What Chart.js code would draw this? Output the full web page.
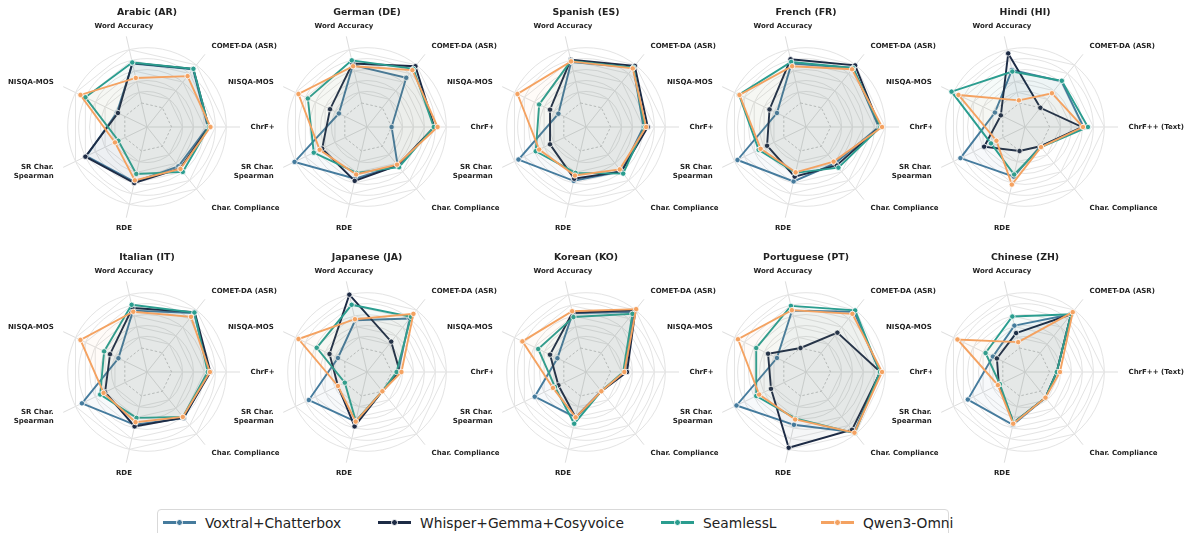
<!DOCTYPE html>
<html>
<head>
<meta charset="utf-8">
<script src="https://cdn.jsdelivr.net/npm/chart.js@4.4.1/dist/chart.umd.min.js"></script>
<style>
body { margin: 0; background: #fff; width: 1194px; height: 533px; overflow: hidden; position: relative; font-family: "DejaVu Sans", sans-serif; }
canvas { position: absolute; }
#legend { position: absolute; left: 157px; top: 509px; width: 790px; height: 34px; border: 1px solid #d9d9d9; border-radius: 4px; background: #fff; }
.item { position: absolute; top: 5px; font-size: 13.8px; color: #222; white-space: nowrap; line-height: 16px; }
.mk { position: absolute; top: 7px; width: 33px; height: 2.5px; }
.mk::after { content: ""; position: absolute; left: 12.5px; top: -2.5px; width: 5px; height: 5px; border-radius: 50%; background: inherit; border: 0.8px solid #fff; }
</style>
</head>
<body>
<div id="legend"></div>
<script>
const LANGS = ['Arabic (AR)', 'German (DE)', 'Spanish (ES)', 'French (FR)', 'Hindi (HI)',
               'Italian (IT)', 'Japanese (JA)', 'Korean (KO)', 'Portuguese (PT)', 'Chinese (ZH)'];
const AXES = ['Word Accuracy', 'COMET-DA (ASR)', 'ChrF++', 'Char. Compliance', 'RDE', ['SR Char.', 'Spearman'], 'NISQA-MOS'];
const AXES_TEXT = ['Word Accuracy', 'COMET-DA (ASR)', 'ChrF++ (Text)', 'Char. Compliance', 'RDE', ['SR Char.', 'Spearman'], 'NISQA-MOS'];
const TEXT_LANGS = ['Hindi (HI)', 'Chinese (ZH)'];
const MODELS = ['Voxtral+Chatterbox', 'Whisper+Gemma+Cosyvoice', 'SeamlessL', 'Qwen3-Omni'];

// normalised scores, axis order as AXES, one row per language
const VOXTRAL = [
  [0.74, 0.90, 0.66, 0.47, 0.58, 0.78, 0.16],
  [0.71, 0.70, 0.00, 0.45, 0.52, 1.02, 0.12],
  [0.77, 0.94, 0.60, 0.59, 0.56, 0.92, 0.11],
  [0.74, 0.93, 0.88, 0.40, 0.57, 0.94, 0.14],
  [0.62, 0.62, 0.62, 0.00, 0.48, 0.86, 0.16],
  [0.70, 0.93, 0.68, 0.63, 0.54, 0.87, 0.13],
  [0.52, 0.80, 0.12, 0.00, 0.48, 0.73, 0.14],
  [0.65, 0.96, 0.26, 0.00, 0.40, 0.59, 0.13],
  [0.70, 0.96, 0.90, 0.96, 0.54, 0.96, 0.14],
  [0.42, 0.90, 0.13, 0.15, 0.54, 0.71, 0.20]
];
const WHISPER = [
  [0.75, 0.91, 0.68, 0.52, 0.60, 0.80, 0.14],
  [0.74, 0.97, 0.78, 0.45, 0.56, 0.46, 0.30],
  [0.81, 0.98, 0.68, 0.59, 0.52, 0.28, 0.28],
  [0.82, 0.99, 0.90, 0.45, 0.48, 0.34, 0.29],
  [0.93, 0.00, 0.59, 0.00, 0.00, 0.38, 0.04],
  [0.75, 0.95, 0.71, 0.62, 0.57, 0.40, 0.30],
  [1.00, 0.26, 0.15, 0.00, 0.57, 0.14, 0.31],
  [0.66, 1.00, 0.30, 0.00, 0.40, 0.11, 0.28],
  [0.00, 0.47, 0.91, 0.90, 0.97, 0.26, 0.32],
  [0.28, 0.90, 0.13, 0.15, 0.50, 0.08, 0.12]
];
const SEAMLESS = [
  [0.76, 0.91, 0.68, 0.60, 0.43, 0.13, 0.80],
  [0.80, 0.91, 0.77, 0.49, 0.41, 0.63, 0.75],
  [0.79, 0.94, 0.62, 0.64, 0.41, 0.57, 0.50],
  [0.77, 0.93, 0.91, 0.50, 0.41, 0.51, 0.91],
  [0.59, 0.63, 0.70, 0.02, 0.44, 0.24, 1.04],
  [0.81, 0.94, 0.66, 0.60, 0.41, 0.50, 0.42],
  [0.81, 0.84, 0.09, 0.00, 0.47, 0.00, 0.57],
  [0.58, 0.91, 0.23, 0.00, 0.52, 0.18, 0.52],
  [0.79, 0.99, 0.90, 0.98, 0.42, 0.56, 0.56],
  [0.59, 0.90, 0.13, 0.15, 0.50, 0.06, 0.35]
];
const QWEN = [
  [0.47, 0.74, 0.71, 0.53, 0.55, 0.20, 0.90],
  [0.69, 0.88, 0.84, 0.43, 0.44, 0.51, 0.94],
  [0.78, 0.92, 0.65, 0.54, 0.46, 0.50, 0.94],
  [0.69, 0.90, 0.94, 0.36, 0.40, 0.47, 0.90],
  [0.05, 0.34, 0.61, 0.02, 0.63, 0.13, 0.90],
  [0.68, 0.84, 0.70, 0.60, 0.49, 0.43, 0.90],
  [0.54, 0.91, 0.18, 0.00, 0.48, 0.14, 0.94],
  [0.69, 1.02, 0.25, 0.00, 0.40, 0.22, 0.84],
  [0.71, 0.91, 0.94, 0.97, 0.44, 0.50, 0.93],
  [0.11, 0.95, 0.19, 0.15, 0.52, 0.10, 0.92]
];
const GRID_LEVELS = [0.2, 0.4, 0.6, 0.8, 1.0];

const COLORS = ['#457b9d', '#1d2b45', '#2a9d8f', '#f4a261'];
const FILLS = ['rgba(69,123,157,0.045)', 'rgba(29,43,69,0.045)', 'rgba(42,157,143,0.045)', 'rgba(244,162,97,0.045)'];
const COL_X = [147, 367, 586, 806, 1025];
const ROW_Y = [127, 372];
const LEGEND_X = [5, 220, 503, 663];


const radarDecor = {
  id: 'radarDecor',
  beforeDraw(chart) {
    // white axes background, hides overflow of the neighbour's labels
    const s = chart.scales.r, ctx = chart.ctx;
    ctx.save();
    ctx.fillStyle = '#fff';
    ctx.beginPath();
    ctx.arc(s.xCenter, s.yCenter, s.drawingArea, 0, 2 * Math.PI);
    ctx.fill();
    ctx.restore();
  },
  beforeDatasetsDraw(chart) {
    const s = chart.scales.r, ctx = chart.ctx;
    const n = chart.data.labels.length;
    ctx.save();
    ctx.strokeStyle = '#e4e4e4';
    ctx.lineWidth = 1;
    GRID_LEVELS.forEach(v => {
      const d = s.getDistanceFromCenterForValue(v);
      ctx.beginPath();
      ctx.arc(s.xCenter, s.yCenter, d, 0, 2 * Math.PI);
      ctx.stroke();
      ctx.beginPath();
      for (let i = 0; i < n; i++) {
        const p = s.getPointPositionForValue(i, v);
        if (i == 0) ctx.moveTo(p.x, p.y); else ctx.lineTo(p.x, p.y);
      }
      ctx.closePath();
      ctx.stroke();
    });
    // zero line
    ctx.strokeStyle = '#c8c8c8';
    ctx.setLineDash([2.5, 2]);
    ctx.beginPath();
    for (let i = 0; i < n; i++) {
      const p = s.getPointPositionForValue(i, 0);
      if (i == 0) ctx.moveTo(p.x, p.y); else ctx.lineTo(p.x, p.y);
    }
    ctx.closePath();
    ctx.stroke();
    ctx.restore();
  },
  afterDraw(chart, args, opts) {
    const s = chart.scales.r, ctx = chart.ctx;
    ctx.save();
    ctx.fillStyle = '#222';
    ctx.textBaseline = 'middle';
    ctx.font = 'bold 7px "DejaVu Sans"';
    chart.data.labels.forEach((lab, i) => {
      const p = s.getPointPosition(i, s.drawingArea + 10.5);
      const c = Math.cos(p.angle);
      ctx.textAlign = Math.abs(c) < 0.35 ? 'center' : (c > 0 ? 'left' : 'right');
      const lines = Array.isArray(lab) ? lab : [lab];
      lines.forEach((ln, k) => ctx.fillText(ln, p.x, p.y + (k - (lines.length - 1) / 2) * 9));
    });
    ctx.font = 'bold 9.4px "DejaVu Sans"';
    ctx.textAlign = 'center';
    ctx.fillText(opts.title, s.xCenter, s.yCenter - 114);
    ctx.restore();
  }
};


function make_panel(k) {
  const cv = document.createElement('canvas');
  cv.width = 330;
  cv.height = 240;
  cv.style.left = (COL_X[k % 5] - 165) + 'px';
  cv.style.top = (ROW_Y[Math.floor(k / 5)] - 120) + 'px';
  document.body.appendChild(cv);

  const series = [VOXTRAL, WHISPER, SEAMLESS, QWEN];
  const datasets = series.map((s, i) => ({
    label: MODELS[i],
    data: s[k],
    borderColor: COLORS[i],
    backgroundColor: FILLS[i],
    fill: 'start',
    borderWidth: 1.9,
    pointRadius: 2.7,
    pointBackgroundColor: COLORS[i],
    pointBorderColor: '#fff',
    pointBorderWidth: 0.8,
    order: 3 - i
  }));

  new Chart(cv, {
    type: 'radar',
    data: {
      labels: TEXT_LANGS.includes(LANGS[k]) ? AXES_TEXT : AXES,
      datasets: datasets
    },
    options: {
      responsive: false,
      animation: false,
      layout: { padding: { top: 26.5, bottom: 26.5, left: 0, right: 0 } },
      elements: { line: { tension: 0 } },
      plugins: {
        legend: { display: false },
        tooltip: { enabled: false },
        radarDecor: { title: LANGS[k] }
      },
      scales: {
        r: {
          min: -0.45,
          max: 1.25,
          startAngle: -90 / 7,
          ticks: { display: false, stepSize: 0.2 },
          grid: { display: false },
          angleLines: { color: '#dddddd', lineWidth: 1 },
          pointLabels: { display: false }
        }
      }
    },
    plugins: [radarDecor]
  });
}

for (let k = 0; k < LANGS.length; k++) make_panel(k);

const legendEl = document.getElementById('legend');
legendEl.innerHTML = MODELS.map((m, i) =>
  `<span class="mk" style="left:${LEGEND_X[i]}px;top:11px;background:${COLORS[i]}"></span>` +
  `<span class="item" style="left:${LEGEND_X[i] + 42}px">${m}</span>`).join('');
</script>
</body>
</html>
